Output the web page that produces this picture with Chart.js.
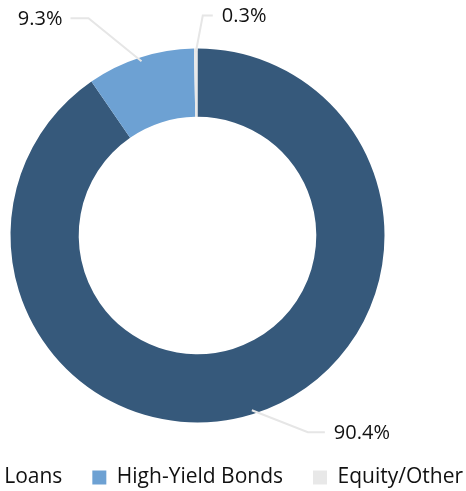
<!DOCTYPE html>
<html>
<head>
<meta charset="utf-8">
<script src="https://cdn.jsdelivr.net/npm/chart.js@4"></script>
<style>
  html, body { margin: 0; padding: 0; background: #fff; overflow: hidden; }
  body { width: 466px; height: 491px; position: relative; }
  #chart { position: absolute; left: -98px; top: 0; }
</style>
</head>
<body>
<canvas id="chart" width="591" height="498"></canvas>
<script>
const categories = ['Loans', 'High-Yield Bonds', 'Equity/Other'];
const shares = [90.4, 9.3, 0.3];
const sliceColors = ['#36597b', '#6da1d3', '#e8e8e8'];

// leader line shape per slice: elbow offset from the arc edge, then a flat run
const leaderLines = [
  { dx: 56, dy: 22, run: 17 },
  { dx: -53, dy: -43, run: -18 },
  { dx: 7, dy: -37, run: 10 },
];

const leaderLabels = {
  id: 'leaderLabels',
  afterDatasetsDraw(chart) {
    const ctx = chart.ctx;
    const arcs = chart.getDatasetMeta(0).data;
    ctx.save();
    arcs.forEach((arc, i) => {
      const { x, y, startAngle, endAngle, outerRadius } =
        arc.getProps(['x', 'y', 'startAngle', 'endAngle', 'outerRadius'], true);
      const mid = (startAngle + endAngle) / 2;
      const r = outerRadius - 4;
      const ax = x + Math.cos(mid) * r;
      const ay = y + Math.sin(mid) * r;
      const l = leaderLines[i];
      const ex = ax + l.dx, ey = ay + l.dy;
      const tx = ex + l.run;

      ctx.strokeStyle = '#e6e6e6';
      ctx.lineWidth = 2;
      ctx.beginPath();
      ctx.moveTo(ax, ay);
      ctx.lineTo(ex, ey);
      ctx.lineTo(tx, ey);
      ctx.stroke();

      ctx.fillStyle = '#111';
      ctx.font = '500 20px "Open Sans"';
      ctx.textBaseline = 'middle';
      ctx.textAlign = l.run < 0 ? 'right' : 'left';
      ctx.fillText(shares[i].toFixed(1) + '%', tx + (l.run < 0 ? -8 : 9), ey + 1);
    });
    ctx.restore();
  }
};

new Chart(document.getElementById('chart'), {
  type: 'doughnut',
  data: {
    labels: categories,
    datasets: [{
      data: shares,
      backgroundColor: sliceColors,
      borderWidth: 0,
      radius: 187,
      cutout: 128
    }]
  },
  options: {
    responsive: false,
    animation: false,
    layout: { padding: { top: 34, left: 0, right: 0, bottom: 0 } },
    plugins: {
      legend: {
        position: 'bottom',
        align: 'end',
        labels: {
          boxWidth: 14,
          boxHeight: 14,
          padding: 30,
          color: '#111',
          font: { family: 'Open Sans', size: 21, weight: '500' }
        }
      },
      tooltip: { enabled: false }
    }
  },
  plugins: [leaderLabels]
});
</script>
</body>
</html>
